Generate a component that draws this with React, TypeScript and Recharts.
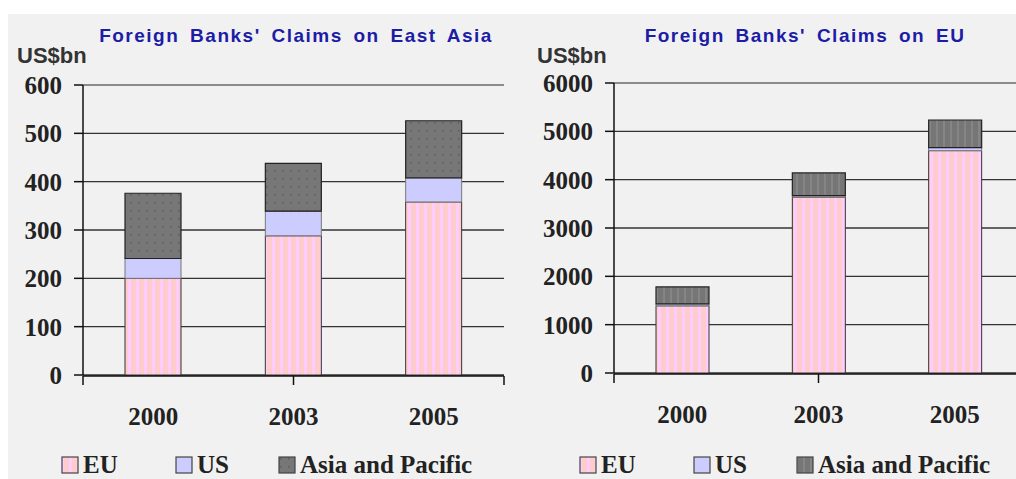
import React from 'react';
import { BarChart, Bar, XAxis, YAxis, CartesianGrid, ReferenceLine } from 'recharts';

const years = ['2000', '2003', '2005'];
const categoryEdges = [0, 1, 2, 3];

// claims on East Asia (US$bn)
const eastAsiaFromEU = [200, 288, 358];
const eastAsiaFromUS = [41, 51, 50];
const eastAsiaFromAP = [135, 99, 118];
const eastAsiaTicks = [0, 100, 200, 300, 400, 500, 600];

// claims on EU (US$bn)
const euFromEU = [1390, 3640, 4600];
const euFromUS = [40, 30, 65];
const euFromAP = [350, 470, 570];
const euTicks = [0, 1000, 2000, 3000, 4000, 5000, 6000];

const seriesNames = ['EU', 'US', 'Asia and Pacific'];

const eastAsiaRows = years.map((year, i) => ({
  year,
  eu: eastAsiaFromEU[i],
  us: eastAsiaFromUS[i],
  ap: eastAsiaFromAP[i],
}));

const euRows = years.map((year, i) => ({
  year,
  eu: euFromEU[i],
  us: euFromUS[i],
  ap: euFromAP[i],
}));

const serif = '"Liberation Serif", "Times New Roman", serif';
const sans = '"Liberation Sans", Arial, sans-serif';

const Patterns = ({ p }: { p: string }) => (
  <defs>
    <pattern id={`${p}-eu`} width="8" height="8" patternUnits="userSpaceOnUse">
      <rect width="8" height="8" fill="#ffcccc" />
      <rect x="0" width="3" height="8" fill="#ffccff" />
    </pattern>
    <pattern id={`${p}-apdots`} width="8" height="8" patternUnits="userSpaceOnUse">
      <rect width="8" height="8" fill="#777777" />
      <rect x="2" y="2" width="1.5" height="1.5" fill="#5c5c5c" />
    </pattern>
    <pattern id={`${p}-apstripes`} width="7" height="7" patternUnits="userSpaceOnUse">
      <rect width="7" height="7" fill="#767676" />
      <rect x="0" width="2" height="7" fill="#858585" />
    </pattern>
  </defs>
);

type PanelProps = {
  p: string;
  rows: typeof eastAsiaRows;
  ticks: number[];
  barSize: number;
  left: number;
  width: number;
  margin: { top: number; right: number; bottom: number; left: number };
  apFill: string;
};

const Panel = ({ p, rows, ticks, barSize, left, width, margin, apFill }: PanelProps) => (
  <div style={{ position: 'absolute', left, top: 0 }}>
    <BarChart width={width} height={479} data={rows} margin={margin}>
      <Patterns p={p} />
      <CartesianGrid xAxisId="cat" vertical={false} stroke="#333" strokeWidth={1.3} />
      <XAxis
        xAxisId="edge"
        type="number"
        domain={[0, 3]}
        ticks={categoryEdges}
        allowDataOverflow
        height={1}
        tickSize={9}
        tickFormatter={() => ''}
        axisLine={{ stroke: '#111', strokeWidth: 1.5 }}
        tickLine={{ stroke: '#111', strokeWidth: 1.5 }}
      />
      <XAxis
        xAxisId="cat"
        dataKey="year"
        height={1}
        interval={0}
        axisLine={false}
        tickLine={false}
        tickSize={0}
        tickMargin={32}
        tick={{ fill: '#222', fontSize: 25, fontFamily: serif, fontWeight: 'bold' }}
      />
      <YAxis
        domain={[0, ticks[ticks.length - 1]]}
        ticks={ticks}
        interval={0}
        width={60}
        tickSize={9}
        tickMargin={12}
        axisLine={{ stroke: '#111', strokeWidth: 1.5 }}
        tickLine={{ stroke: '#111', strokeWidth: 1.5 }}
        tick={{ fill: '#222', fontSize: 25, fontFamily: serif, fontWeight: 'bold' }}
      />
      <ReferenceLine xAxisId="cat" y={ticks[ticks.length - 1]} stroke="#999" strokeWidth={1.5} />
      <ReferenceLine xAxisId="edge" x={3} stroke="#aaa" strokeWidth={1.5} />
      <Bar xAxisId="cat" dataKey="eu" stackId="s" barSize={barSize} fill={`url(#${p}-eu)`} stroke="#333" isAnimationActive={false} />
      <Bar xAxisId="cat" dataKey="us" stackId="s" barSize={barSize} fill="#ccccff" stroke="#777" isAnimationActive={false} />
      <Bar xAxisId="cat" dataKey="ap" stackId="s" barSize={barSize} fill={`url(#${p}-${apFill})`} stroke="#222" strokeWidth={1.2} isAnimationActive={false} />
    </BarChart>
  </div>
);

const Legend = ({ p, left, apFill }: { p: string; left: number; apFill: string }) => {
  const fills = [`url(#${p}-eu)`, '#ccccff', `url(#${p}-${apFill})`];
  const widths = [114, 103, 240];
  return (
    <div style={{ position: 'absolute', left, top: 453, display: 'flex', alignItems: 'center' }}>
      {seriesNames.map((name, i) => (
        <div key={name} style={{ width: widths[i], display: 'flex', alignItems: 'center' }}>
          <svg width={18} height={18} style={{ marginRight: 4 }}>
            <rect x={1} y={1} width={16} height={16} fill={fills[i]} stroke="#444" strokeWidth={1.2} />
          </svg>
          <span style={{ fontFamily: serif, fontWeight: 'bold', fontSize: 25, lineHeight: '24px', color: '#222', whiteSpace: 'nowrap' }}>
            {name}
          </span>
        </div>
      ))}
    </div>
  );
};

const titleStyle: React.CSSProperties = {
  position: 'absolute',
  top: 26,
  width: 420,
  textAlign: 'center',
  fontFamily: sans,
  fontWeight: 'bold',
  fontSize: 19,
  lineHeight: '19px',
  letterSpacing: 1.5,
  wordSpacing: 4,
  color: '#1c1ca6',
  whiteSpace: 'nowrap',
};

const unitStyle: React.CSSProperties = {
  position: 'absolute',
  top: 45,
  fontFamily: sans,
  fontWeight: 'bold',
  fontSize: 22,
  lineHeight: '22px',
  color: '#333',
};

export default function App() {
  return (
    <div style={{ position: 'absolute', left: 0, top: 0, width: 1016, height: 479, background: '#fff', overflow: 'hidden' }}>
      <div style={{ position: 'absolute', left: 8, top: 14, width: 1008, height: 465, background: '#f1f1f1' }} />
      <Panel
        p="ea"
        rows={eastAsiaRows}
        ticks={eastAsiaTicks}
        barSize={56}
        left={0}
        width={510}
        margin={{ top: 85, right: 6, bottom: 102, left: 23 }}
        apFill="apdots"
      />
      <Panel
        p="eu"
        rows={euRows}
        ticks={euTicks}
        barSize={53}
        left={530}
        width={500}
        margin={{ top: 83, right: 7, bottom: 104, left: 24 }}
        apFill="apstripes"
      />
      <div style={{ ...titleStyle, left: 86 }}>Foreign Banks' Claims on East Asia</div>
      <div style={{ ...titleStyle, left: 595 }}>Foreign Banks' Claims on EU</div>
      <div style={{ ...unitStyle, left: 17 }}>US$bn</div>
      <div style={{ ...unitStyle, left: 537 }}>US$bn</div>
      <Legend p="ea" left={61} apFill="apdots" />
      <Legend p="eu" left={579} apFill="apstripes" />
    </div>
  );
}
